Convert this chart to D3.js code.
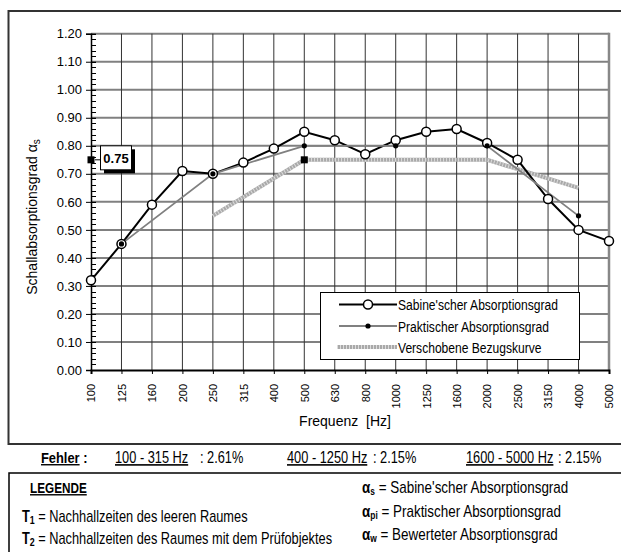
<!DOCTYPE html>
<html><head><meta charset="utf-8">
<script src="https://cdn.jsdelivr.net/npm/d3@7/dist/d3.min.js"></script>
<style>
body{margin:0;background:#fff;}
svg{display:block;}
.ax{font-family:"Liberation Sans",Arial,sans-serif;}
.nar{font-family:"Liberation Sans",Arial,sans-serif;}
</style></head>
<body>
<svg id="c" width="621" height="552"></svg>
<script>
const freqs = ["100","125","160","200","250","315","400","500","630","800","1000","1250","1600","2000","2500","3150","4000","5000"];
const sabine = [0.32,0.45,0.59,0.71,0.70,0.74,0.79,0.85,0.82,0.77,0.82,0.85,0.86,0.81,0.75,0.61,0.50,0.46];
const praktFreqs = ["125","250","500","1000","2000","4000"];
const prakt = [0.45,0.70,0.80,0.80,0.80,0.55];
const bezugFreqs = ["250","500","1000","2000","4000"];
const bezug = [0.55,0.75,0.75,0.75,0.65];
const alphaW = 0.75;
const yTicks = [0,0.1,0.2,0.3,0.4,0.5,0.6,0.7,0.8,0.9,1.0,1.1,1.2];
const legendLabels = ["Sabine'scher Absorptionsgrad","Praktischer Absorptionsgrad","Verschobene Bezugskurve"];
const fehler = [["100 - 315 Hz",": 2.61%"],["400 - 1250 Hz",": 2.15%"],["1600 - 5000 Hz",": 2.15%"]];

const svg = d3.select("#c");
const L=91,R=609,T=33.7,B=370;
const x = d3.scalePoint().domain(freqs).range([L,R]);
const y = d3.scaleLinear().domain([0,1.2]).range([B,T]);

function nt(px,py,size,sx){
  return svg.append("text").attr("class","nar").attr("font-size",size)
    .attr("transform",`translate(${px},${py}) scale(${sx},1)`);
}

// outer frame
svg.append("rect").attr("x",8.5).attr("y",11).attr("width",620).attr("height",433)
  .attr("fill","none").attr("stroke","#333").attr("stroke-width",2);

// horizontal grid
svg.append("g").selectAll("line").data(yTicks.filter(d=>d>0)).join("line")
  .attr("x1",L).attr("x2",R).attr("y1",d=>y(d)).attr("y2",d=>y(d))
  .attr("stroke","#808080").attr("stroke-width",2);
// vertical grid
svg.append("g").selectAll("line").data(freqs.slice(1,-1)).join("line")
  .attr("x1",d=>x(d)).attr("x2",d=>x(d)).attr("y1",T).attr("y2",B)
  .attr("stroke","#333").attr("stroke-width",1);
// right border
svg.append("line").attr("x1",R).attr("x2",R).attr("y1",T-1).attr("y2",B)
  .attr("stroke","#888").attr("stroke-width",2.5);

// y axis
const yMinor = d3.range(0,1.2001,0.02);
svg.append("g").selectAll("line").data(yMinor).join("line")
  .attr("x1",L).attr("x2",L+5).attr("y1",d=>Math.round(y(d))+0.5).attr("y2",d=>Math.round(y(d))+0.5)
  .attr("stroke","#000").attr("stroke-width",1);
const yAxis = d3.axisLeft(y).tickValues(yTicks).tickFormat(d3.format(".2f")).tickSize(5).tickPadding(4);
const gy = svg.append("g").attr("transform",`translate(${L},0)`).call(yAxis);
gy.select(".domain").attr("stroke","#000").attr("stroke-width",1.5);
gy.selectAll(".tick line").attr("x2",-5).attr("x1",5).attr("stroke","#000");
gy.selectAll("text").attr("class","ax").attr("font-size",13).attr("fill","#000");

// x axis
const xAxis = d3.axisBottom(x).tickSize(4).tickPadding(6);
const gx = svg.append("g").attr("transform",`translate(0,${B})`).call(xAxis);
gx.select(".domain").attr("stroke","#000").attr("stroke-width",2);
gx.selectAll(".tick line").attr("stroke","#000");
gx.selectAll("text").attr("class","ax").attr("font-size",11).attr("fill","#000")
  .attr("transform","rotate(-90)").attr("text-anchor","end")
  .attr("x",-14).attr("y",0).attr("dy","0.35em");

// axis titles
svg.append("text").attr("class","ax").attr("x",345).attr("y",426).attr("text-anchor","middle")
  .attr("font-size",14).text("Frequenz\u00a0\u00a0[Hz]");
const yt = svg.append("text").attr("class","ax").attr("transform","translate(37,217) rotate(-90)")
  .attr("text-anchor","middle").attr("font-size",14);
yt.append("tspan").text("Schallabsorptionsgrad ");
yt.append("tspan").text("α");
yt.append("tspan").attr("font-size",10).attr("dy",3).text("s");

// Bezugskurve (hatched grey)
const lineB = d3.line().x((d,i)=>x(bezugFreqs[i])).y(d=>y(d));
svg.append("path").attr("d",lineB(bezug)).attr("fill","none").attr("stroke","#a9a9a9").attr("stroke-width",4);
svg.append("path").attr("d",lineB(bezug)).attr("fill","none").attr("stroke","#dcdcdc").attr("stroke-width",4).attr("stroke-dasharray","1,2");

// Sabine line
const lineS = d3.line().x((d,i)=>x(freqs[i])).y(d=>y(d));
svg.append("path").attr("d",lineS(sabine)).attr("fill","none").attr("stroke","#000").attr("stroke-width",2);
// Praktisch line
const lineP = d3.line().x((d,i)=>x(praktFreqs[i])).y(d=>y(d));
svg.append("path").attr("d",lineP(prakt)).attr("fill","none").attr("stroke","#808080").attr("stroke-width",1.8);
// markers
svg.append("g").selectAll("circle").data(sabine).join("circle")
  .attr("cx",(d,i)=>x(freqs[i])).attr("cy",d=>y(d)).attr("r",4.5)
  .attr("fill","#fff").attr("stroke","#000").attr("stroke-width",1.5);
svg.append("g").selectAll("circle").data(prakt).join("circle")
  .attr("cx",(d,i)=>x(praktFreqs[i])).attr("cy",d=>y(d)).attr("r",2.6)
  .attr("fill","#000");

// alpha_w markers
svg.append("rect").attr("x",x("500")-3.5).attr("y",y(alphaW)-3.5).attr("width",7).attr("height",7).attr("fill","#000");
svg.append("rect").attr("x",L-3.5).attr("y",y(alphaW)-3.5).attr("width",7).attr("height",7).attr("fill","#000");
svg.append("line").attr("x1",L+4).attr("x2",100).attr("y1",y(alphaW)).attr("y2",y(alphaW)).attr("stroke","#000").attr("stroke-width",1);
// value box
const bx=100, by=y(alphaW)-14.5;
svg.append("rect").attr("x",bx+4).attr("y",by+4).attr("width",31).attr("height",24).attr("fill","#000");
svg.append("rect").attr("x",bx+0.5).attr("y",by+0.5).attr("width",31).attr("height",24).attr("fill","#fff").attr("stroke","#000");
svg.append("text").attr("class","ax").attr("x",bx+16).attr("y",by+17.5).attr("text-anchor","middle")
  .attr("font-size",13).attr("font-weight","bold").text(alphaW.toFixed(2));

// legend
const lg = svg.append("g");
lg.append("rect").attr("x",320.5).attr("y",292.5).attr("width",259).attr("height",67)
  .attr("fill","#fff").attr("stroke","#000").attr("stroke-width",1);
const ly=[304.5,326,347];
lg.append("line").attr("x1",339).attr("x2",397).attr("y1",ly[0]).attr("y2",ly[0]).attr("stroke","#000").attr("stroke-width",2);
lg.append("circle").attr("cx",368).attr("cy",ly[0]).attr("r",4.5).attr("fill","#fff").attr("stroke","#000").attr("stroke-width",1.5);
lg.append("line").attr("x1",339).attr("x2",397).attr("y1",ly[1]).attr("y2",ly[1]).attr("stroke","#808080").attr("stroke-width",1.8);
lg.append("circle").attr("cx",368).attr("cy",ly[1]).attr("r",2.6).attr("fill","#000");
lg.append("line").attr("x1",337).attr("x2",397).attr("y1",ly[2]).attr("y2",ly[2]).attr("stroke","#a9a9a9").attr("stroke-width",4);
lg.append("line").attr("x1",337).attr("x2",397).attr("y1",ly[2]).attr("y2",ly[2]).attr("stroke","#dcdcdc").attr("stroke-width",4).attr("stroke-dasharray","1,2");
legendLabels.forEach((d,i)=>{ nt(398,ly[i]+5.5,15.5,0.78).text(d); });

// Fehler line
const fy=463;
nt(41,fy,14,0.92).attr("font-weight","bold")
  .call(t=>{t.append("tspan").attr("text-decoration","underline").text("Fehler");t.append("tspan").text(" :");});
const fx=[[115,200],[287,373],[466,558]];
fehler.forEach((f,i)=>{
  nt(fx[i][0],fy,16,0.8).attr("text-decoration","underline").text(f[0]);
  nt(fx[i][1],fy,16,0.8).text(f[1]);
});

// LEGENDE box
svg.append("rect").attr("x",9).attr("y",473).attr("width",620).attr("height",90)
  .attr("fill","none").attr("stroke","#000").attr("stroke-width",1.5);
nt(30,493,14,0.84).attr("font-weight","bold").attr("text-decoration","underline").text("LEGENDE");
const tl=[["1","Nachhallzeiten des leeren Raumes",522],["2","Nachhallzeiten des Raumes mit dem Prüfobjektes",544]];
tl.forEach(r=>{
  const t=nt(22,r[2],16,0.8);
  t.append("tspan").attr("font-weight","bold").text("T");
  t.append("tspan").attr("font-weight","bold").attr("font-size",11).attr("dy",2).text(r[0]);
  t.append("tspan").attr("dy",-2).text(" = "+r[1]);
});
const al=[["s","Sabine'scher Absorptionsgrad",493],["pi","Praktischer Absorptionsgrad",517],["w","Bewerteter Absorptionsgrad",540]];
al.forEach(r=>{
  const t=nt(362,r[2],16,0.84);
  t.append("tspan").attr("font-weight","bold").text("α");
  t.append("tspan").attr("font-weight","bold").attr("font-size",10).attr("dy",2).text(r[0]);
  t.append("tspan").attr("dy",-2).text(" = "+r[1]);
});
</script>
</body></html>
